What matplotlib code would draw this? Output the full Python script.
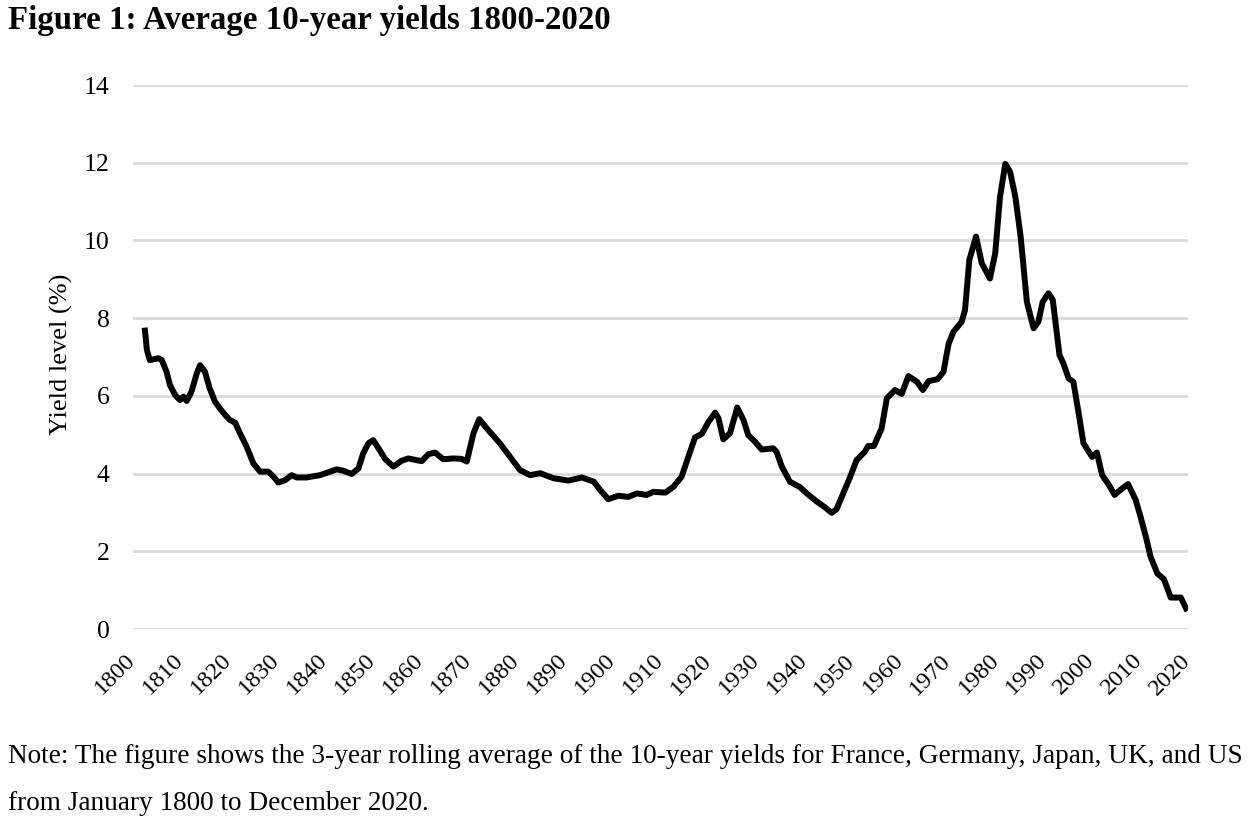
import matplotlib.pyplot as plt
from matplotlib.transforms import ScaledTranslation

plt.rcParams['font.family'] = ['Liberation Serif', 'DejaVu Serif']

# values (3-year rolling average, %)
years = [1802.5, 1802.9, 1803.5, 1805.3, 1806.0, 1807.0, 1807.7, 1808.8, 1809.8, 1810.5,
         1811.2, 1812.2, 1813.3, 1814.0, 1815.0, 1816.0, 1817.1, 1818.1, 1819.2, 1820.2,
         1821.3, 1822.3, 1823.7, 1825.1, 1826.5, 1828.2, 1829.3, 1830.3, 1831.7, 1833.1,
         1834.1, 1836.2, 1839.0, 1841.1, 1842.5, 1843.9, 1845.6, 1847.0, 1848.0, 1849.1,
         1850.1, 1851.2, 1852.6, 1854.3, 1856.0, 1857.4, 1860.2, 1861.6, 1863.0, 1864.7,
         1866.8, 1868.5, 1869.6, 1871.0, 1872.2, 1873.8, 1876.5, 1880.7, 1882.8, 1884.9,
         1887.7, 1890.8, 1893.6, 1896.1, 1897.4, 1899.1, 1901.2, 1903.3, 1905.1, 1907.1,
         1908.5, 1911.0, 1912.7, 1914.4, 1915.8, 1917.2, 1918.6, 1920.0, 1921.4, 1922.1,
         1923.1, 1924.5, 1926.0, 1927.3, 1928.3, 1929.7, 1931.1, 1933.5, 1934.2, 1935.3,
         1937.0, 1939.1, 1940.5, 1942.6, 1944.3, 1945.7, 1946.7, 1948.1, 1949.5, 1950.9,
         1952.6, 1953.3, 1954.5, 1956.1, 1957.2, 1958.9, 1960.3, 1961.7, 1963.5, 1964.7,
         1965.9, 1967.8, 1969.0, 1970.1, 1971.1, 1972.8, 1973.5, 1974.4, 1975.8, 1977.0,
         1978.7, 1979.8, 1980.8, 1981.9, 1982.9, 1984.0, 1985.1, 1986.4, 1987.8, 1988.8,
         1989.7, 1990.9, 1991.8, 1993.2, 1994.0, 1995.1, 1996.1, 1997.2, 1998.2, 2000.0,
         2001.0, 2002.1, 2003.5, 2004.7, 2005.9, 2007.5, 2009.1, 2010.1, 2011.2, 2012.2,
         2013.6, 2015.0, 2016.4, 2018.5, 2019.6]
yields = [7.68, 7.18, 6.92, 6.97, 6.92, 6.62, 6.28, 6.02, 5.89, 5.98,
          5.87, 6.11, 6.58, 6.79, 6.62, 6.19, 5.85, 5.68, 5.51, 5.38,
          5.31, 5.04, 4.69, 4.26, 4.05, 4.05, 3.92, 3.77, 3.83, 3.96,
          3.90, 3.90, 3.96, 4.05, 4.11, 4.07, 3.99, 4.13, 4.52, 4.78,
          4.86, 4.65, 4.37, 4.18, 4.33, 4.39, 4.32, 4.50, 4.54, 4.37,
          4.39, 4.38, 4.31, 5.04, 5.40, 5.16, 4.78, 4.09, 3.96, 4.01,
          3.88, 3.82, 3.90, 3.79, 3.58, 3.34, 3.43, 3.40, 3.49, 3.45,
          3.53, 3.51, 3.66, 3.92, 4.43, 4.93, 5.02, 5.33, 5.57, 5.42,
          4.88, 5.04, 5.70, 5.38, 4.99, 4.82, 4.62, 4.65, 4.56, 4.18,
          3.79, 3.65, 3.49, 3.28, 3.13, 2.99, 3.08, 3.49, 3.90, 4.35,
          4.56, 4.71, 4.71, 5.16, 5.94, 6.15, 6.05, 6.51, 6.36, 6.15,
          6.38, 6.43, 6.62, 7.35, 7.65, 7.91, 8.21, 9.50, 10.10, 9.41,
          9.02, 9.67, 11.12, 11.97, 11.77, 11.12, 10.10, 8.42, 7.74, 7.91,
          8.42, 8.64, 8.47, 7.05, 6.84, 6.45, 6.36, 5.55, 4.78, 4.43,
          4.54, 3.96, 3.71, 3.45, 3.58, 3.73, 3.32, 2.89, 2.38, 1.86,
          1.43, 1.28, 0.81, 0.81, 0.53]

x_ticks = list(range(1800, 2021, 10))
y_ticks = list(range(0, 15, 2))

fig = plt.figure(figsize=(12.5, 8.27), dpi=100)
ax = fig.add_axes([0.1064, 0.2394, 0.8440, 0.6578])

ax.plot(years, yields, color='black', linewidth=4.3, solid_joinstyle='round', zorder=3)

ax.set_xlim(1800, 2020)
ax.set_ylim(0, 14)
ax.set_xticks(x_ticks)
ax.set_xticklabels([str(t) for t in x_ticks], rotation=45, ha='right',
                   rotation_mode='anchor', fontsize=17.5)
ax.set_yticks(y_ticks)
ax.set_yticklabels([str(t) for t in y_ticks], fontsize=18.5)
ax.tick_params(axis='both', length=0)
ax.tick_params(axis='x', pad=10)
ax.tick_params(axis='y', pad=17)

# nudge the rotated year labels so they hang like the original
shift = ScaledTranslation(-0.08, -0.07, fig.dpi_scale_trans)
for lab in ax.get_xticklabels():
    lab.set_transform(lab.get_transform() + shift)

ax.grid(axis='y', color='#d9d9d9', linewidth=2)
ax.set_axisbelow(True)
for s in ax.spines.values():
    s.set_visible(False)

ax.set_ylabel('Yield level (%)', fontsize=19)
ax.yaxis.set_label_coords(-0.057, 0.505)

fig.text(0.006, 0.975, 'Figure 1: Average 10-year yields 1800-2020',
         fontsize=23.7, fontweight='bold', va='center', ha='left')
fig.text(0.006, 0.085,
         'Note: The figure shows the 3-year rolling average of the 10-year yields for France, '
         'Germany, Japan, UK, and US',
         fontsize=19.6, va='center', ha='left')
fig.text(0.006, 0.029, 'from January 1800 to December 2020.',
         fontsize=19.6, va='center', ha='left')

plt.savefig('out.png', dpi=100)
